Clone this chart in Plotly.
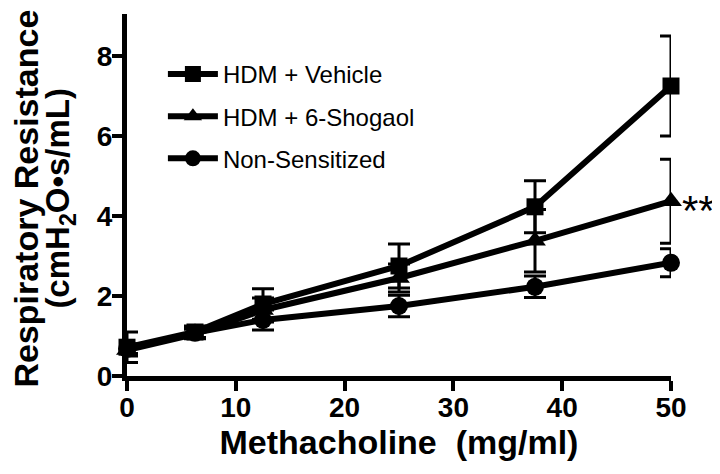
import plotly.graph_objects as go

dose = [0, 6.25, 12.5, 25, 37.5, 50]
vehicle = [0.72, 1.10, 1.80, 2.75, 4.23, 7.25]
vehicle_err = [0.38, 0.15, 0.38, 0.55, 0.65, 1.25]
shogaol = [0.65, 1.05, 1.65, 2.45, 3.38, 4.37]
shogaol_err = [0.15, 0.12, 0.30, 0.35, 0.78, 1.05]
nonsens = [0.68, 1.08, 1.40, 1.75, 2.23, 2.83]
nonsens_err = [0.12, 0.12, 0.25, 0.27, 0.27, 0.35]

series = [
    ("HDM + Vehicle", vehicle, vehicle_err, "square", 17),
    ("HDM + 6-Shogaol", shogaol, shogaol_err, "triangle-up", 19),
    ("Non-Sensitized", nonsens, nonsens_err, "circle", 18),
]

FONT = "Liberation Sans"

fig = go.Figure()
for name, vals, errs, sym, size in series:
    fig.add_trace(go.Scatter(
        x=dose, y=vals, name=name, mode="lines+markers",
        line=dict(color="black", width=6),
        marker=dict(symbol=sym, size=size, color="black"),
        error_y=dict(type="data", array=errs, visible=True, color="black",
                     thickness=3, width=11),
        cliponaxis=False, legendgroup=name,
    ))

fig.add_annotation(x=50, y=4.37, xref="x", yref="y", text="**", showarrow=False,
                   xanchor="left", yanchor="middle", xshift=9, yshift=-9,
                   font=dict(family=FONT, size=42, color="black"))

fig.add_annotation(xref="paper", yref="paper", x=0, y=0.49, xshift=-101,
                   text="Respiratory Resistance", textangle=-90, showarrow=False,
                   xanchor="center", yanchor="middle",
                   font=dict(family=FONT, size=34, color="black", weight="bold"))
fig.add_annotation(xref="paper", yref="paper", x=0, y=0.49, xshift=-67,
                   text="(cmH<sub>2</sub>O\u2022s/mL)", textangle=-90, showarrow=False,
                   xanchor="center", yanchor="middle",
                   font=dict(family=FONT, size=33, color="black", weight="bold"))

tickfont = dict(family=FONT, size=28, color="black", weight="bold")

fig.update_layout(
    width=712, height=466,
    margin=dict(l=119, r=49, t=6, b=98),
    paper_bgcolor="white", plot_bgcolor="white",
    font=dict(family=FONT, color="black"),
    showlegend=True,
    legend=dict(x=0.066, y=0.8955, xanchor="left", yanchor="top",
                font=dict(family=FONT, size=24, color="black"),
                bgcolor="rgba(0,0,0,0)", itemwidth=50, tracegroupgap=8,
                traceorder="grouped"),
    xaxis=dict(range=[0, 50], tickvals=[0, 10, 20, 30, 40, 50],
               showline=True, linewidth=5, linecolor="black",
               ticks="outside", ticklen=10, tickwidth=4, tickcolor="black",
               showgrid=False, zeroline=False, ticklabelstandoff=-8,
               tickfont=tickfont,
               title=dict(text="Methacholine\u00a0\u00a0(mg/ml)",
                          font=dict(family=FONT, size=34, color="black", weight="bold"),
                          standoff=6)),
    yaxis=dict(range=[0, 9.05], tickvals=[0, 2, 4, 6, 8],
               showline=True, linewidth=5, linecolor="black",
               ticks="outside", ticklen=10, tickwidth=4, tickcolor="black",
               showgrid=False, zeroline=False, ticklabelstandoff=-6,
               tickfont=tickfont),
)

fig.write_html("out.html")
